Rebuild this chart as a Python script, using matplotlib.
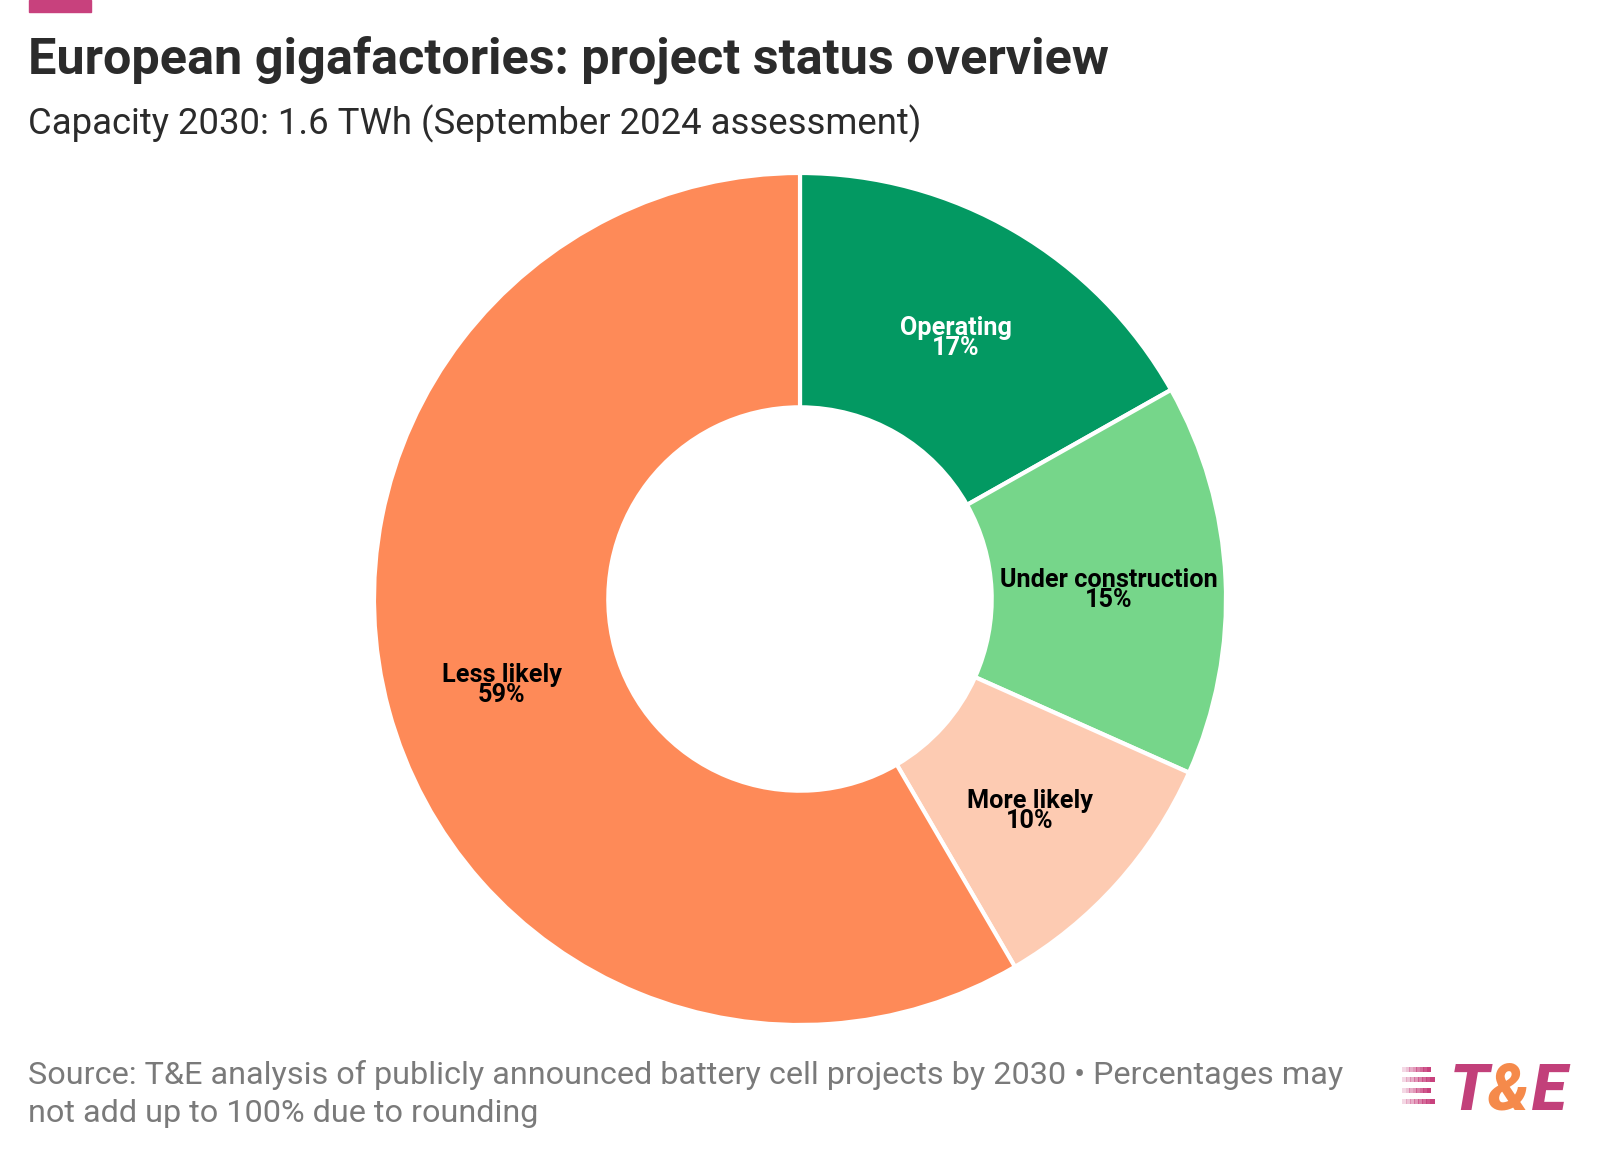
import numpy as np
import matplotlib.pyplot as plt
from matplotlib.patches import Rectangle

# data
labels = ["Operating", "Under construction", "More likely", "Less likely"]
shares = [17, 15, 10, 59]
colors = ["#039962", "#76D68A", "#FDCBB2", "#FE8A58"]
text_colors = ["white", "black", "black", "black"]

W, H = 1600, 1158
fig = plt.figure(figsize=(W / 100, H / 100), dpi=100)
fig.patch.set_facecolor("white")


def fx(x):
    return x / W


def fy(y):
    return 1 - y / H


# pink tag at top
fig.patches.append(Rectangle((fx(29), fy(12)), fx(62), 12 / H, transform=fig.transFigure,
                             color="#C8417D", zorder=5))

fig.text(fx(28), fy(74), "European gigafactories: project status overview",
         family="Roboto", weight="bold", fontsize=36.3, color="#2b2b2b", va="baseline")
fig.text(fx(28), fy(134), "Capacity 2030: 1.6 TWh (September 2024 assessment)",
         family="Roboto", fontsize=26.3, color="#2b2b2b", va="baseline")

# donut
cx, cy, R = 800, 599, 426
pad = 1.01
ax = fig.add_axes([fx(cx - R * pad), fy(cy + R * pad), 2 * R * pad / W, 2 * R * pad / H])
wedges, _ = ax.pie(shares, colors=colors, startangle=90, counterclock=False, radius=1,
                   wedgeprops=dict(width=0.55, edgecolor="white", linewidth=3, joinstyle="round"))
ax.set_xlim(-pad, pad)
ax.set_ylim(-pad, pad)
ax.set_aspect("equal")
ax.axis("off")

for w, lab, s, tc in zip(wedges, labels, shares, text_colors):
    ang = np.deg2rad((w.theta1 + w.theta2) / 2)
    r = 0.725
    ax.text(r * np.cos(ang), r * np.sin(ang) - 0.013, f"{lab}\n{s}%", ha="center", va="center",
            family="Roboto", weight="bold", fontsize=18.2, color=tc, linespacing=0.8)

# footer
src_color = "#7a7a7a"
fig.text(fx(28), fy(1084), "Source: T&E analysis of publicly announced battery cell projects by 2030 \u2022 Percentages may",
         family="Roboto", fontsize=23.3, color=src_color, va="baseline")
fig.text(fx(28), fy(1122), "not add up to 100% due to rounding",
         family="Roboto", fontsize=23.3, color=src_color, va="baseline")

# logo
for i, (y0, x1) in enumerate([(1067, 1430), (1077, 1434), (1088, 1430), (1099, 1434)]):
    for k in range(8):
        xs = 1402 + k * (x1 - 1402) / 8
        fig.patches.append(Rectangle((fx(xs), fy(y0 + 5)), fx((x1 - 1402) / 8 + 0.5), 5 / H,
                                     transform=fig.transFigure, color="#C8417D",
                                     alpha=0.2 + 0.8 * k / 7, lw=0))
logo_y = fy(1110)
fig.text(fx(1450), logo_y, "T", family="Roboto", weight="black", style="italic",
         fontsize=46, color="#C2407A", va="baseline")
fig.text(fx(1488), logo_y, "&", family="Roboto", weight="black", style="italic",
         fontsize=46, color="#F58A4B", va="baseline")
fig.text(fx(1532), logo_y, "E", family="Roboto", weight="black", style="italic",
         fontsize=46, color="#C2407A", va="baseline")

fig.savefig("out.png", dpi=100, facecolor="white")
